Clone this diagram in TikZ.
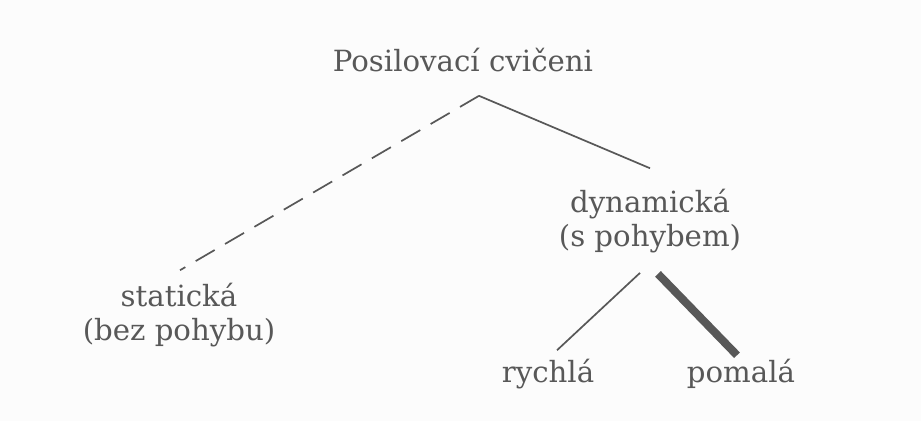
\documentclass[tikz,border=0pt]{standalone}
\usepackage{fontspec}
\setmainfont{DejaVu Serif}
\usetikzlibrary{calc}
\definecolor{InkGray}{HTML}{585858}
\definecolor{PaperWhite}{HTML}{FCFCFC}

\begin{document}
\begin{tikzpicture}[x=.5pt,y=-.5pt,line join=round,font=\fontsize{14.6}{17}\selectfont,
  label/.style={inner sep=0pt,anchor=base,align=center,text=InkGray},
  branch/.style={InkGray,line width=.85pt},
  weakbranch/.style={branch,dash pattern=on 11pt off 6pt},
  strongbranch/.style={InkGray,line width=4pt}]
  \fill[PaperWhite] (0,0) rectangle (921,421);\useasboundingbox (0,0) rectangle (921,421);
  % labels (base = last line)
  \node[label] (root) at (463,72) {Posilovací cvičeni};
  \node[label] (stat) at (179,341) {statická\\(bez pohybu)};
  \node[label] (dyn) at (650,247) {dynamická\\(s pohybem)};
  \node[label] (fast) at (548,383) {rychlá};\node[label] (slow) at (741,383) {pomalá};
  % branch ends
  \coordinate (fork) at ($(root.south)+(16,23)$);
  \coordinate (statTop) at ($(stat.north)+(1,-13)$);\coordinate (dynTop) at ($(dyn.north)+(0,-21)$);
  \coordinate (dynL) at ($(dyn.south)+(-10,19)$);\coordinate (dynR) at ($(dyn.south)+(8,20)$);
  \coordinate (fastTop) at ($(fast.north)+(9,-9)$);\coordinate (slowTop) at ($(slow.north)+(-4,-4)$);
  \draw[weakbranch] (fork)--(statTop);\draw[branch] (fork)--(dynTop);
  \draw[branch] (dynL)--(fastTop);\draw[strongbranch] (dynR)--(slowTop);
\end{tikzpicture}
\end{document}
